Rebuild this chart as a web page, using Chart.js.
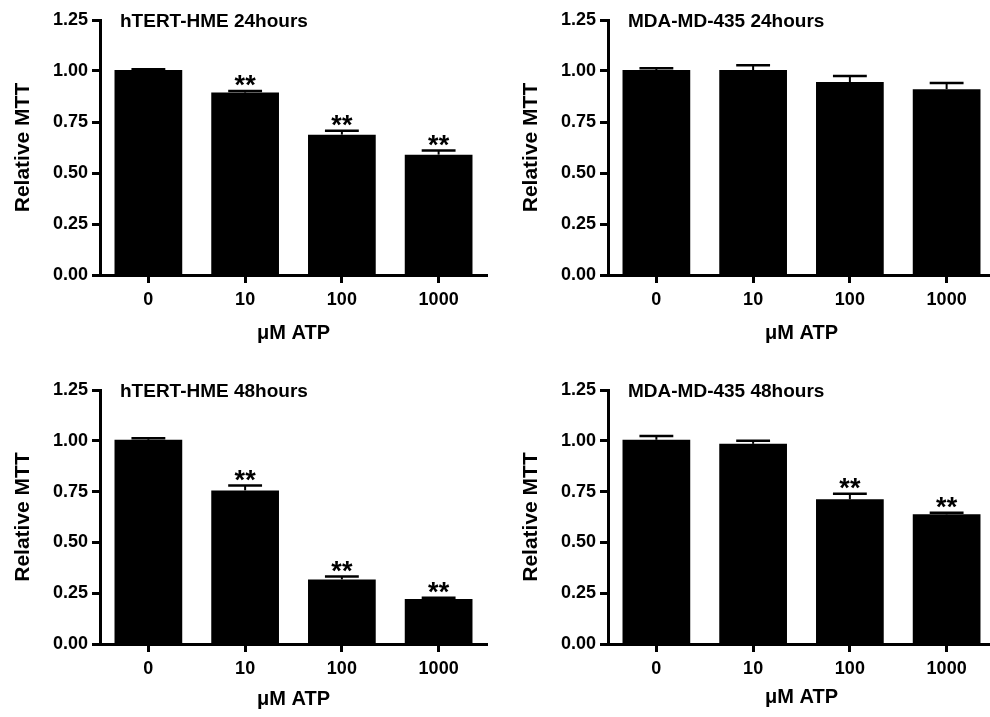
<!DOCTYPE html>
<html>
<head>
<meta charset="utf-8">
<script src="https://cdn.jsdelivr.net/npm/chart.js@4.4.0/dist/chart.umd.min.js"></script>
<style>
html, body { margin: 0; padding: 0; background: #fff; width: 990px; height: 717px; overflow: hidden; }
canvas { position: absolute; }
</style>
</head>
<body>
<canvas id="c1" width="495" height="358" style="left:0;top:0"></canvas>
<canvas id="c2" width="505" height="358" style="left:495px;top:0"></canvas>
<canvas id="c3" width="495" height="359" style="left:0;top:358px"></canvas>
<canvas id="c4" width="505" height="359" style="left:495px;top:358px"></canvas>
<script>
const doses = ["0", "10", "100", "1000"];
const yTickValues = [0, 0.25, 0.5, 0.75, 1.0, 1.25];

const hme24    = [1.005, 0.894, 0.688, 0.590];
const hme24Err = [0.004, 0.008, 0.019, 0.020];
const hme24Sig = [false, true, true, true];

const mda24    = [1.005, 1.005, 0.946, 0.911];
const mda24Err = [0.008, 0.023, 0.030, 0.030];
const mda24Sig = [false, false, false, false];

const hme48    = [1.005, 0.756, 0.318, 0.221];
const hme48Err = [0.008, 0.024, 0.014, 0.007];
const hme48Sig = [false, true, true, true];

const mda48    = [1.005, 0.985, 0.712, 0.638];
const mda48Err = [0.019, 0.015, 0.027, 0.008];
const mda48Sig = [false, false, true, true];

const FONT = "'Liberation Sans', Arial, sans-serif";

// panel title drawn inside the plot, next to the top of the y axis
const titlePlugin = {
    id: "panelTitle",
    afterDraw(chart, args, opts) {
        const ctx = chart.ctx, a = chart.chartArea;
        ctx.save();
        ctx.font = "bold 19px " + FONT;
        ctx.fillStyle = "#000";
        ctx.textAlign = "left";
        ctx.textBaseline = "middle";
        ctx.fillText(opts.text, a.left + 20, a.top + 2);
        ctx.restore();
    }
};

// upper error bars + significance stars
const errPlugin = {
    id: "errBars",
    afterDatasetsDraw(chart, args, opts) {
        const ctx = chart.ctx, y = chart.scales.y;
        const vals = chart.data.datasets[0].data;
        ctx.save();
        ctx.strokeStyle = "#000";
        ctx.fillStyle = "#000";
        chart.getDatasetMeta(0).data.forEach((bar, i) => {
            const yTop = y.getPixelForValue(vals[i] + opts.errs[i]);
            const half = bar.width / 4;
            ctx.lineWidth = 2;
            ctx.beginPath(); ctx.moveTo(bar.x, bar.y); ctx.lineTo(bar.x, yTop); ctx.stroke();
            ctx.lineWidth = 2.5;
            ctx.beginPath(); ctx.moveTo(bar.x - half, yTop); ctx.lineTo(bar.x + half, yTop); ctx.stroke();
            if (opts.sig[i]) {
                ctx.font = "bold 27px " + FONT;
                ctx.textAlign = "center";
                ctx.textBaseline = "alphabetic";
                ctx.fillText("**", bar.x, yTop + 3);
            }
        });
        ctx.restore();
    }
};

function makePanel(p) {
    return new Chart(document.getElementById(p.id), {
        type: "bar",
        data: { labels: doses, datasets: [{ data: p.values, backgroundColor: "#000", borderWidth: 0, barPercentage: 0.7, categoryPercentage: 1 }] },
        options: {
            responsive: false, animation: false,
            layout: { padding: { left: p.axisX - 89, top: p.plotTop, right: p.w - p.plotRight, bottom: 0 } },
            plugins: {
                legend: { display: false }, tooltip: { enabled: false },
                panelTitle: { text: p.title },
                errBars: { errs: p.errs, sig: p.sig }
            },
            scales: {
                x: {
                    offset: true,
                    grid: { offset: false, drawOnChartArea: false, tickLength: 8, tickWidth: 3, tickColor: "#000" },
                    border: { color: "#000", width: 3 },
                    ticks: { color: "#000", font: { family: FONT, size: 18, weight: "bold" }, padding: 6, maxRotation: 0 },
                    title: { display: true, text: "μM ATP", color: "#000", font: { family: FONT, size: 20, weight: "bold" }, padding: { top: 0, bottom: p.xTitlePad } },
                    afterFit: s => { s.height = p.h - p.plotBottom; }
                },
                y: {
                    min: 0, max: 1.25,
                    afterBuildTicks: s => { s.ticks = yTickValues.map(v => ({ value: v })); },
                    grid: { drawOnChartArea: false, tickLength: 8, tickWidth: 3, tickColor: "#000" },
                    border: { color: "#000", width: 3 },
                    ticks: { color: "#000", font: { family: FONT, size: 18, weight: "bold" }, padding: 4, callback: v => Number(v).toFixed(2) },
                    title: { display: true, text: "Relative MTT", color: "#000", font: { family: FONT, size: 21, weight: "bold" }, padding: 0 },
                    afterFit: s => { s.width = 89; }
                }
            }
        },
        plugins: [titlePlugin, errPlugin]
    });
}

makePanel({ id: "c1", title: "hTERT-HME 24hours",  values: hme24, errs: hme24Err, sig: hme24Sig, w: 495, h: 358, axisX: 100, plotTop: 20, plotBottom: 275, plotRight: 487, xTitlePad: 13 });
makePanel({ id: "c2", title: "MDA-MD-435 24hours", values: mda24, errs: mda24Err, sig: mda24Sig, w: 505, h: 358, axisX: 113, plotTop: 20, plotBottom: 275, plotRight: 500, xTitlePad: 13 });
makePanel({ id: "c3", title: "hTERT-HME 48hours",  values: hme48, errs: hme48Err, sig: hme48Sig, w: 495, h: 359, axisX: 100, plotTop: 32, plotBottom: 286, plotRight: 487, xTitlePad: 6 });
makePanel({ id: "c4", title: "MDA-MD-435 48hours", values: mda48, errs: mda48Err, sig: mda48Sig, w: 505, h: 359, axisX: 113, plotTop: 32, plotBottom: 286, plotRight: 500, xTitlePad: 8 });
</script>
</body>
</html>
